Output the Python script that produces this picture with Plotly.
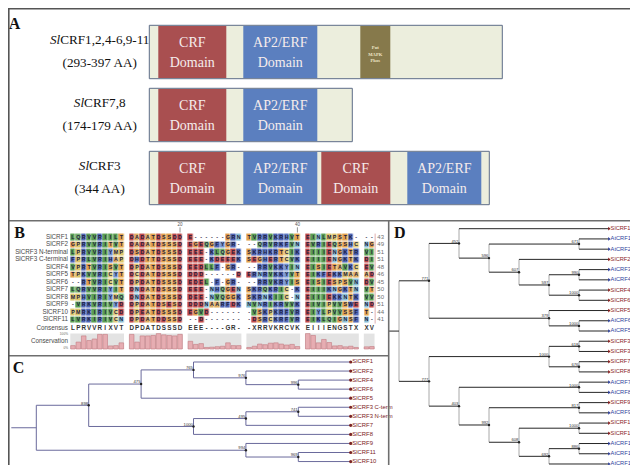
import math
import plotly.graph_objects as go

# ---------------- Panel A data (schematic protein architecture) ----------------
prot_labels = ["<i>Sl</i>CRF1,2,4-6,9-11", "<i>Sl</i>CRF7,8", "<i>Sl</i>CRF3"]
prot_sizes = ["(293-397 AA)", "(174-179 AA)", "(344 AA)"]
prot_length = [353, 203, 340]                       # schematic units
dom_start = [[9, 94, 211], [9, 94], [9, 94, 172, 258]]
dom_end = [[77, 168, 241], [77, 168], [77, 168, 241, 332]]
dom_type = [["CRF", "AP2", "MAPK"], ["CRF", "AP2"], ["CRF", "AP2", "CRF", "AP2"]]
dom_text = {"CRF": ["CRF", "Domain"], "AP2": ["AP2/ERF", "Domain"], "MAPK": ["Put", "MAPK", "Phos"]}

# ---------------- Panel B data (alignment) ----------------
aln_names = ["SlCRF1", "SlCRF2", "SlCRF3 N-terminal", "SlCRF3 C-terminal", "SlCRF4", "SlCRF5",
             "SlCRF6", "SlCRF7", "SlCRF8", "SlCRF9", "SlCRF10", "SlCRF11"]
aln_seqs = [
    "LQRVVRIILT DADATDSSDD E------GRN TVRRVKRHVT EINLMPSTK- --",
    "GPRVVRITVT DADATDSSSD EGEQGFYGR- --QRVRKFVN EVRIEQSSHC NG",
    "LPRVVRIYMP DSDATDSSSD EEE-KLQGEK SKRHKRTCIK EIIIENGKTR VI",
    "FPRLVRIHAP DHDTTDSSSD EEE-KDEEEK SEGHERTCVK EIIIENGKTK DI",
    "VPRTVRISVT DPDATDSSSD EEDLLF-GR- --RRVKKYIN EISIETAVKC EV",
    "TPKVVRICYT DCDATDSSSD DDD------D ERNRVKKYVT EIKFEKKMAA AD",
    "--RTVRICVT DPDATDSSSD EDEL-F-GR- --RRVKRYIS EISIESPSVN DV",
    "LQRVVRIYIT DNDATDSSSD EEE-NHQGEN SKRQKRIC-K EIIIKNGKTN VT",
    "MPHVIRIYMQ DNDATDSSSD DEE-NVQGGK SKRNKIIC-N EIIIEKKNTK VV",
    "-VRKVRIVYD DPDATDSESD DDDNAARFDK NVNRIKRVVK EIVIPVVSWE ND",
    "PMRKIRIVCD DPEATDSSSD EGVD------ -VSKPKRFVR EIYLPVVSSF T-",
    "LVRKIRIVCN DPDATDDSSD --D------- -DSRCKRFVR EIKLQIGNSF N-",
]
aln_counts = [43, 49, 51, 51, 48, 46, 45, 50, 50, 51, 44, 41]
consensus = "LPRVVRIXVT DPDATDSSSD EEE----GR- -XRRVKRCVK EIIIENGSTX XV"
conservation = [22, 45, 85, 55, 65, 95, 95, 20, 22, 40,
                95, 45, 85, 85, 88, 100, 92, 88, 85, 95,
                50, 30, 35, 10, 12, 15, 18, 40, 22, 22,
                10, 18, 32, 28, 38, 40, 32, 26, 30, 16,
                100, 88, 40, 62, 42, 20, 22, 14, 18, 10,
                14, 16]
ruler_marks = [20, 40]

# ---------------- Panel C / D data (trees: (bootstrap, [children])) ----------------
tree_C = (None, [
    (898, [
        (475, [(765, ["SlCRF1", (976, ["SlCRF2", (996, ["SlCRF4", "SlCRF6"])])]), "SlCRF5"]),
        (1000, [(495, [(741, ["SlCRF3 C-term", "SlCRF3 N-term"]), "SlCRF7"]), "SlCRF8"]),
    ]),
    (994, ["SlCRF9", (969, ["SlCRF11", "SlCRF10"])]),
])
tree_D = (None, [
    (771, [
        (452, ["SlCRF1", (596, [(671, ["AtCRF1", "AtCRF2"]),
                                (607, ["SlCRF2", (597, [(990, ["AtCRF3", "AtCRF4"]),
                                                        (1000, ["SlCRF4", "SlCRF6"])])])])]),
        (379, ["SlCRF5", (1000, ["AtCRF6", "AtCRF5"])]),
    ]),
    (777, [
        (1000, [(618, ["SlCRF3 N-term", "SlCRF3 C-term"]), (676, ["SlCRF7", "SlCRF8"])]),
        (403, [(1000, ["AtCRF7", "AtCRF8"]),
               (992, [(817, ["SlCRF9", "AtCRF9"]),
                      (608, [(1000, ["SlCRF10", "SlCRF11"]),
                             (692, [(886, ["AtCRF10", "AtCRF11"]), "AtCRF12"])])])]),
    ]),
])

# ---------------- styles ----------------
SERIF = "Liberation Serif, Times New Roman, serif"
SANS = "Liberation Sans, Arial, sans-serif"
NARROW = "Liberation Sans Narrow, Arial Narrow, Liberation Sans, sans-serif"
dom_colors = {"CRF": "#a94f50", "AP2": "#5b7fbf", "MAPK": "#86794b"}
res_colors = {
    "D": "#bf4b4b", "E": "#bf4b4b",
    "K": "#4f66b6", "R": "#4f66b6", "H": "#5b78c2", "F": "#4f66b6", "W": "#4f66b6", "Y": "#6f92d2",
    "S": "#e2a24c", "T": "#e2a24c", "G": "#e09a48", "A": "#dfb064",
    "P": "#dcc46c", "M": "#dcc46c", "C": "#e3cd7e",
    "V": "#5b9f53", "I": "#5b9f53", "L": "#5b9f53",
    "N": "#88bed6", "Q": "#78b270",
}

fig = go.Figure()
shapes = []


def rect(x0, y0, x1, y1, fill, lcol=None, lw=0, layer="below"):
    shapes.append(dict(type="rect", xref="x", yref="y", x0=x0, y0=y0, x1=x1, y1=y1,
                       fillcolor=fill, line=dict(color=lcol or fill, width=lw), layer=layer))


def line(x0, y0, x1, y1, col, w=1.0, layer="above"):
    shapes.append(dict(type="line", xref="x", yref="y", x0=x0, y0=y0, x1=x1, y1=y1,
                       line=dict(color=col, width=w), layer=layer))


def text_trace(xs, ys, txt, size, color, family, pos="middle center", weight="normal"):
    fig.add_trace(go.Scatter(x=xs, y=ys, text=txt, mode="text", textposition=pos, cliponaxis=False,
                             textfont=dict(size=size, color=color, family=family, weight=weight),
                             hoverinfo="skip", showlegend=False))


# ================= Panel A =================
A_X0, A_TOP, A_H, A_PITCH = 141.3, 17.3, 53.4, 63.0
lab_x, lab_y, lab_t = [], [], []
dt_x, dt_y, dt_t = [], [], []
mk_x, mk_y, mk_t = [], [], []
for i in range(len(prot_labels)):
    y0 = A_TOP + i * A_PITCH
    y1 = y0 + A_H
    yc = (y0 + y1) / 2
    rect(A_X0, y0, A_X0 + prot_length[i], y1, "#eceedd", "#5d6c88", 1)
    for s, e, t in zip(dom_start[i], dom_end[i], dom_type[i]):
        rect(A_X0 + s, y0 + 0.6, A_X0 + e, y1 - 0.6, dom_colors[t])
        cx = A_X0 + (s + e) / 2
        if t == "MAPK":
            for k, w in enumerate(dom_text[t]):
                mk_x.append(cx); mk_y.append(yc - 4 + 6.6 * k); mk_t.append(w)
        else:
            dt_x += [cx, cx]; dt_y += [yc - 8.5, yc + 11.5]; dt_t += dom_text[t]
    lab_x += [91.7, 91.7]
    lab_y += [yc - 11, yc + 11.5]
    lab_t += [prot_labels[i], prot_sizes[i]]
text_trace(lab_x, lab_y, lab_t, 13.2, "#111111", SERIF)
text_trace(dt_x, dt_y, dt_t, 14, "#f5ecec", SERIF)
text_trace(mk_x, mk_y, mk_t, 4.6, "#efe6c6", SERIF, weight="bold")

# ================= Panel B =================
B_X0, CW, PITCH = 62.3, 5.37, 58.7
ROW0, RH = 229.3, 7.5
blocks0 = consensus.split(" ")
block_len = [len(b) for b in blocks0]
edges, col_x, col_is_gap = [], [], []
for b, n in enumerate(block_len):
    bx = B_X0 + b * PITCH
    for c in range(n):
        edges.append(bx + c * CW)
        col_x.append(bx + (c + 0.5) * CW)
        col_is_gap.append(False)
    if b < len(block_len) - 1:
        edges.append(bx + n * CW)
        col_x.append(None)
        col_is_gap.append(True)
edges.append(B_X0 + (len(block_len) - 1) * PITCH + block_len[-1] * CW)
res_x = [x for x in col_x if x is not None]

uniq = sorted(set(res_colors.values()))
cidx = {c: k for k, c in enumerate(uniq)}
nU = len(uniq)
cscale = []
for k, c in enumerate(uniq):
    cscale.append([k / nU, c]); cscale.append([(k + 1) / nU, c])

z = []
lx, ly, lt = [], [], []
for r, seq in enumerate(aln_seqs):
    chars = seq.replace(" ", "")
    row = []
    ci = 0
    for g in col_is_gap:
        if g:
            row.append(None)
        else:
            ch = chars[ci]
            row.append(cidx[res_colors[ch]] if ch in res_colors else None)
            lx.append(res_x[ci]); ly.append(ROW0 + r * RH); lt.append(ch)
            ci += 1
    z.append(row)
yedges = [ROW0 - RH / 2 + r * RH for r in range(len(aln_seqs) + 1)]
fig.add_trace(go.Heatmap(z=z, x=edges, y=yedges, colorscale=cscale, zmin=-0.0001, zmax=nU,
                         showscale=False, hoverinfo="skip", xgap=0.5, ygap=1.0))
text_trace(lx, ly, lt, 5.4, "#1d1d3d", SANS, weight="bold")

cons_y = ROW0 + len(aln_seqs) * RH + 1.4
cc = consensus.replace(" ", "")
text_trace(res_x, [cons_y] * len(cc), list(cc), 6.3, "#333333", SANS, weight="bold")

# conservation bars
CB_TOP, CB_BOT = 325.6, 341.0
for b, n in enumerate(block_len):
    bx = B_X0 + b * PITCH
    rect(bx, CB_TOP, bx + n * CW, CB_BOT, "#e3e3e3")
fig.add_trace(go.Bar(x=res_x, y=[-(v / 100.0) * (CB_BOT - CB_TOP) for v in conservation],
                     base=CB_BOT, width=CW * 0.86,
                     marker=dict(color="#e6adb2", line=dict(color="#c27a82", width=0.6)),
                     hoverinfo="skip", showlegend=False))

# names, counts, labels
text_trace([60] * len(aln_names), [ROW0 + r * RH for r in range(len(aln_names))], aln_names,
           6.3, "#4a4a4a", SANS, pos="middle left")
text_trace([372.7] * len(aln_counts), [ROW0 + r * RH for r in range(len(aln_counts))],
           [str(c) for c in aln_counts], 6, "#707070", SANS)
text_trace([60, 60], [cons_y, 333.2], ["Consensus", "Conservation"], 6.3, "#4a4a4a", SANS, pos="middle left")
text_trace([60, 60], [326.0, 339.8], ["100%", "0%"], 3.2, "#666666", SANS, pos="middle left")
line(edges[-1] + 0.6, ROW0 - RH / 2, edges[-1] + 0.6, ROW0 + (len(aln_seqs) - 0.5) * RH, "#d89a9a", 0.8)
rx = [res_x[m - 1] for m in ruler_marks]
text_trace(rx, [217.0] * len(rx), [str(m) for m in ruler_marks], 4.5, "#555555", SANS)
for x in rx:
    line(x, 219.3, x, 224.5, "#777777", 0.8)


# ================= trees =================
def build(node, st, hseg, vseg, nodes):
    if isinstance(node, str):
        y = st["y0"] + st["i"] * st["dy"]
        st["i"] += 1
        st["leaves"].append((node, y))
        return st["lx"], y, 0
    boot, kids = node
    res = [build(k, st, hseg, vseg, nodes) for k in kids]
    h = 1 + max(r[2] for r in res)
    x = st["lx"] - h * st["step"]
    y = (res[0][1] + res[-1][1]) / 2
    for cx, cy, _ in res:
        hseg.append(((x, cy), (cx, cy)))
    vseg.append(((x, res[0][1]), (x, res[-1][1])))
    nodes.append((x, y, boot))
    return x, y, h


def seg_xy(segs):
    xs, ys = [], []
    for (a, b) in segs:
        xs += [a[0], b[0], None]
        ys += [a[1], b[1], None]
    return xs, ys


def draw_tree(tree, lx0, step, y0, dy, stub, hcol, vcol, leaf_col_fn, leaf_marker, fsize, lw=1.0):
    st = dict(y0=y0, dy=dy, i=0, lx=lx0, step=step, leaves=[])
    hseg, vseg, nodes = [], [], []
    rx, ry, _ = build(tree, st, hseg, vseg, nodes)
    hseg.append(((rx - stub, ry), (rx, ry)))
    for segs, col in ((vseg, vcol), (hseg, hcol)):
        xs, ys = seg_xy(segs)
        fig.add_trace(go.Scatter(x=xs, y=ys, mode="lines", line=dict(color=col, width=lw),
                                 hoverinfo="skip", showlegend=False, cliponaxis=False))
    bx = [n[0] for n in nodes if n[2] is not None]
    by = [n[1] for n in nodes if n[2] is not None]
    bt = [str(n[2]) for n in nodes if n[2] is not None]
    fig.add_trace(go.Scatter(x=bx, y=by, mode="markers", marker=dict(size=2.4, color="#222222"),
                             hoverinfo="skip", showlegend=False))
    text_trace([x - 0.6 for x in bx], [y - 1.8 for y in by], bt, 4.2, "#333333", NARROW, pos="middle left")
    names = [l[0] for l in st["leaves"]]
    ys = [l[1] for l in st["leaves"]]
    fig.add_trace(go.Scatter(x=[lx0] * len(ys), y=ys, mode="markers", cliponaxis=False,
                             marker=dict(size=3.2, color=[leaf_col_fn(n) for n in names], symbol=leaf_marker),
                             hoverinfo="skip", showlegend=False))
    for col in sorted(set(leaf_col_fn(n) for n in names)):
        sel = [k for k, n in enumerate(names) if leaf_col_fn(n) == col]
        text_trace([lx0 + 1.6] * len(sel), [ys[k] for k in sel], [names[k] for k in sel],
                   fsize, col, NARROW, pos="middle right")


draw_tree(tree_C, 342.7, 52.4, 354.0, 9.05, 25.0, "#6a6a9c", "#6a6a9c",
          lambda n: "#7b2323", "circle", 5.9, lw=1.0)
draw_tree(tree_D, 601.0, 30.0, 220.7, 10.23, 10.0, "#262626", "#a8a8a8",
          lambda n: "#8a1e1e" if n.startswith("Sl") else "#2d3f9c", "triangle-right", 5.7, lw=1.0)

# ================= panel frames & letters =================
FR = "#6e6e6e"
line(0, 212.7, 638, 212.7, FR, 1.6)
line(380.7, 212.7, 380.7, 465, FR, 1.6)
line(0, 347.7, 380.7, 347.7, FR, 1.6)
shapes.append(dict(type="rect", xref="x", yref="y", x0=0.8, y0=0.8, x1=637.2, y1=464.2,
                   line=dict(color="#555555", width=1.6), fillcolor="rgba(0,0,0,0)", layer="above"))
text_trace([6.5, 11.7, 10.5, 391.7], [16.7, 225.5, 360.5, 225.5], ["A", "B", "C", "D"],
           16, "#111111", SERIF, weight="bold")

fig.update_layout(
    width=638, height=465, margin=dict(l=0, r=0, t=0, b=0),
    paper_bgcolor="white", plot_bgcolor="white", showlegend=False,
    xaxis=dict(range=[0, 638], visible=False, fixedrange=True),
    yaxis=dict(range=[465, 0], visible=False, fixedrange=True),
    shapes=shapes, barmode="overlay",
)
fig.write_html("out.html")
